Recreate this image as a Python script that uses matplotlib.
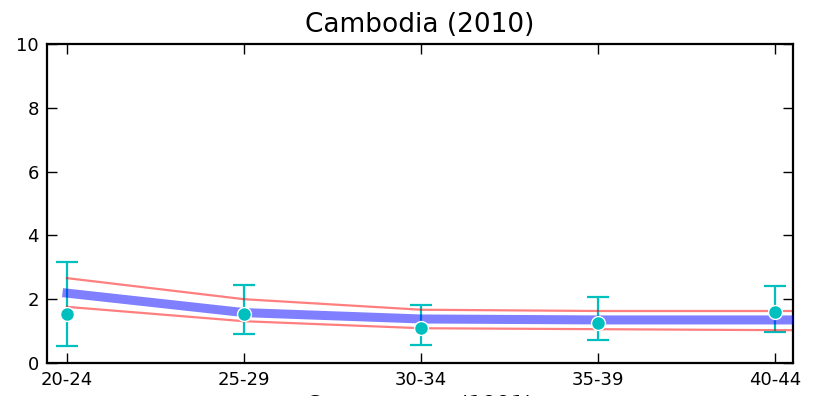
import matplotlib
matplotlib.use('Agg')
import matplotlib.pyplot as plt

# age groups and observed values
age_groups = ["20-24", "25-29", "30-34", "35-39", "40-44"]
observed = [1.54, 1.54, 1.10, 1.25, 1.60]
err_low = [0.53, 0.91, 0.56, 0.72, 0.97]
err_high = [3.17, 2.45, 1.82, 2.07, 2.41]

# model fit and band (last point continues past the axis edge)
fit_x = [0, 1, 2, 3, 4, 5]
fit_mid = [2.19, 1.58, 1.38, 1.35, 1.35, 1.35]
fit_upper = [2.66, 2.00, 1.67, 1.63, 1.63, 1.63]
fit_lower = [1.76, 1.31, 1.09, 1.06, 1.03, 1.02]

plt.rcParams['font.family'] = ['DejaVu Sans']

fig = plt.figure(figsize=(8.2, 3.96), dpi=100)
ax = fig.add_axes([47/820, 33/396, 746/820, 319/396])

x = list(range(len(age_groups)))
yerr = [[o - l for o, l in zip(observed, err_low)],
        [h - o for o, h in zip(observed, err_high)]]

ax.errorbar(x, observed, yerr=yerr, fmt='none', ecolor='#00bfbf',
            elinewidth=1.6, capsize=8, capthick=1.6, zorder=1)
ax.plot(fit_x, fit_upper, color='red', alpha=0.5, lw=1.6, zorder=2)
ax.plot(fit_x, fit_lower, color='red', alpha=0.5, lw=1.6, zorder=2)
ax.plot(fit_x, fit_mid, color='blue', alpha=0.5, lw=6.5, zorder=3)
ax.plot(x, observed, 'o', color='#00bfbf', ms=10, mec='white', mew=1, zorder=4)

ax.set_xlim(-0.113, 4.1)
ax.set_ylim(0, 10)
ax.set_xticks(x)
ax.set_xticklabels(age_groups)
ax.set_yticks([0, 2, 4, 6, 8, 10])
ax.tick_params(direction='in', length=7, width=1, labelsize=13,
               top=True, right=True, pad=6)
for s in ax.spines.values():
    s.set_linewidth(1.6)

ax.set_title("Cambodia (2010)", fontsize=19, pad=9)
ax.set_xlabel("Census wave (1991)", fontsize=16, labelpad=4)

fig.savefig("out.png", dpi=100)
